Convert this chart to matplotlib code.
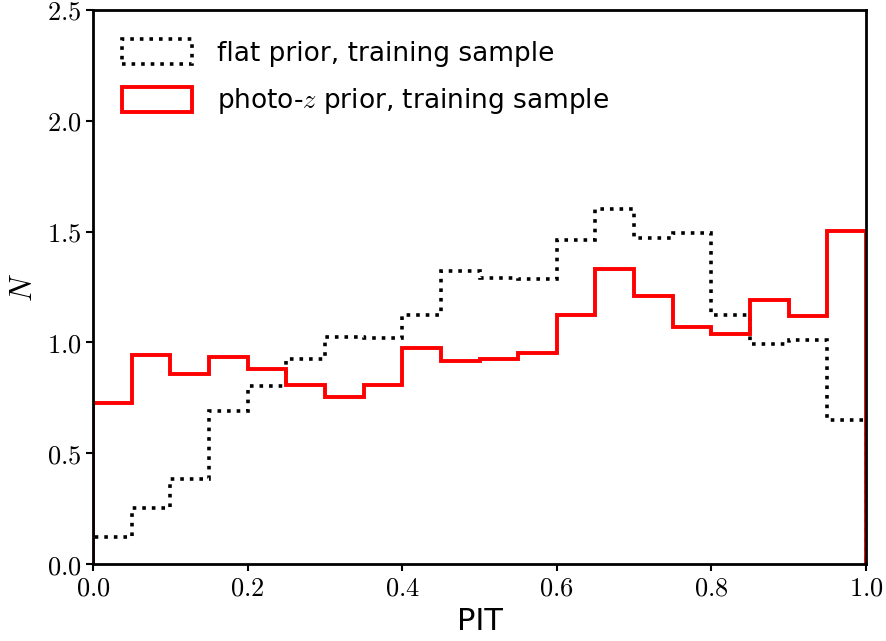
import matplotlib
matplotlib.use("Agg")
import matplotlib.pyplot as plt
import numpy as np
from matplotlib.ticker import FuncFormatter

# PIT histogram, 20 bins on [0, 1]
bin_edges = np.linspace(0.0, 1.0, 21)
flat_prior = [0.121, 0.252, 0.385, 0.690, 0.803, 0.924, 1.023, 1.018, 1.122, 1.320,
              1.291, 1.284, 1.461, 1.604, 1.473, 1.494, 1.125, 0.992, 1.012, 0.652]
photoz_prior = [0.725, 0.942, 0.856, 0.932, 0.879, 0.806, 0.752, 0.808, 0.973, 0.914,
                0.927, 0.951, 1.125, 1.332, 1.208, 1.071, 1.039, 1.192, 1.118, 1.504]

plt.rcParams["mathtext.fontset"] = "cm"

fig = plt.figure(figsize=(8.87, 6.41), dpi=100)
ax = fig.add_axes([0.1049, 0.1201, 0.8714, 0.8643])

centers = 0.5 * (bin_edges[:-1] + bin_edges[1:])
ax.hist(centers, bins=bin_edges, weights=flat_prior, histtype="step",
        color="black", linestyle=":", linewidth=2.6,
        label="flat prior, training sample")
ax.hist(centers, bins=bin_edges, weights=photoz_prior, histtype="step",
        color="red", linewidth=2.8,
        label=r"photo-$z$ prior, training sample")

ax.set_xlim(0, 1)
ax.set_ylim(0, 2.5)
ax.set_xticks(np.arange(0, 1.01, 0.2))
ax.set_yticks(np.arange(0, 2.51, 0.5))
fmt = FuncFormatter(lambda v, p: f"${v:.1f}$")
ax.xaxis.set_major_formatter(fmt)
ax.yaxis.set_major_formatter(fmt)
ax.tick_params(labelsize=19, width=1.5, length=5)
for sp in ax.spines.values():
    sp.set_linewidth(2)

ax.set_xlabel("PIT", fontsize=22, labelpad=4)
ax.set_ylabel("$N$", fontsize=22, labelpad=6)

ax.legend(loc="upper left", frameon=False, fontsize=19,
          handlelength=2.65, handleheight=1.1, handletextpad=0.95,
          labelspacing=0.75, borderaxespad=0.7)

fig.savefig("out.png", dpi=100)
